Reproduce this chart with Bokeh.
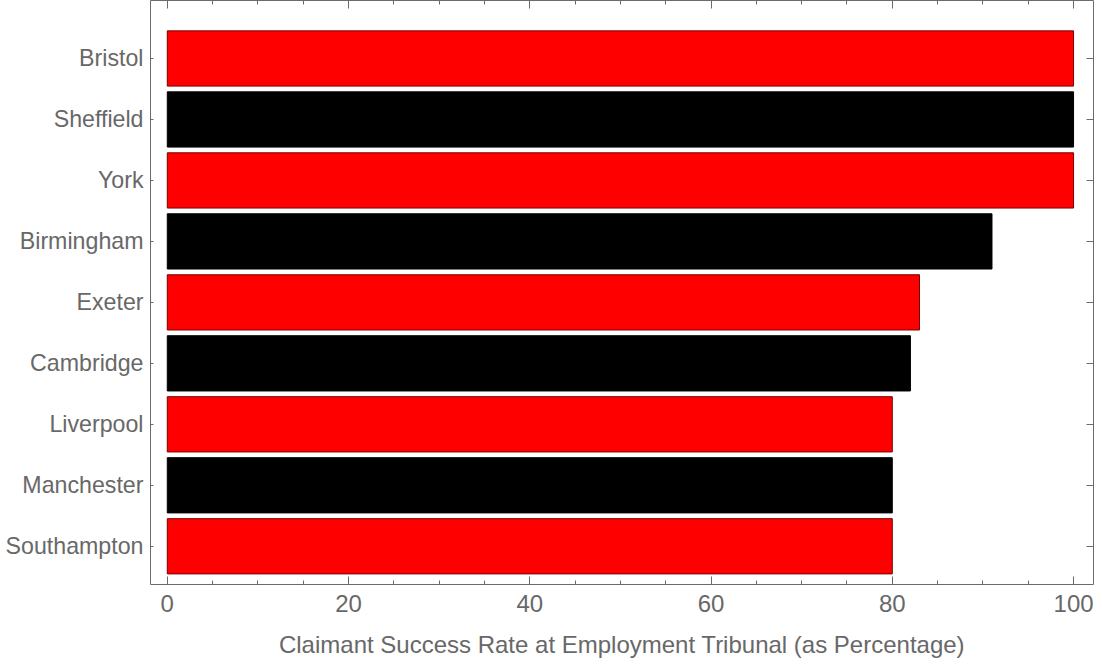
from bokeh.plotting import figure
from bokeh.models import Range1d, LinearAxis, FixedTicker, ColumnDataSource
from bokeh.embed import file_html
from bokeh.resources import INLINE

# ---- data ----
cities = ["Bristol", "Sheffield", "York", "Birmingham", "Exeter",
          "Cambridge", "Liverpool", "Manchester", "Southampton"]
rates = [100, 100, 100, 91, 83, 82, 80, 80, 80]
fill_colors = ["#ff0000", "#000000", "#ff0000", "#000000", "#ff0000",
               "#000000", "#ff0000", "#000000", "#ff0000"]
edge_colors = ["#7a0000", "#000000", "#7a0000", "#000000", "#7a0000",
               "#000000", "#7a0000", "#000000", "#7a0000"]
x_major_ticks = [0, 20, 40, 60, 80, 100]
x_minor_ticks = [0, 5, 10, 15, 20, 25, 30, 35, 40, 45, 50, 55, 60, 65,
                 70, 75, 80, 85, 90, 95, 100]
x_title = "Claimant Success Rate at Employment Tribunal (as Percentage)"

# ---- styles ----
FONT = "Liberation Sans"
FS = "24px"
FS_Y = "23.2px"
TEXT = "#686868"
FRAME = "#6b6b6b"

n = len(cities)
ypos = [n - 1 - i for i in range(n)]

src = ColumnDataSource(dict(y=ypos, right=rates, fill=fill_colors,
                            edge=edge_colors, name=cities))

p = figure(width=1102, height=664,
           x_range=Range1d(-1.85, 102.2), y_range=Range1d(-0.627, 8.951),
           output_backend="svg", toolbar_location=None,
           x_axis_location="below", y_axis_location="left",
           min_border_left=150, min_border_right=9,
           min_border_top=0, min_border_bottom=80)

p.hbar(y="y", left=0, right="right", height=0.906,
       fill_color="fill", line_color="edge", line_width=1, source=src)

p.xgrid.grid_line_color = None
p.ygrid.grid_line_color = None
p.outline_line_color = FRAME
p.outline_line_width = 1
p.background_fill_color = "white"
p.border_fill_color = "white"


def style_axis(ax, tin, mtin, labels=True, size=FS):
    ax.axis_line_color = None
    ax.major_tick_in = tin
    ax.major_tick_out = 0
    ax.minor_tick_in = mtin
    ax.minor_tick_out = 0
    ax.major_tick_line_color = FRAME
    ax.minor_tick_line_color = FRAME
    ax.major_label_text_font = FONT
    ax.major_label_text_color = TEXT
    if labels:
        ax.major_label_text_font_size = size
    else:
        ax.major_label_text_font_size = "1px"
        ax.major_label_standoff = 0


xb = p.xaxis[0]
xb.ticker = FixedTicker(ticks=x_major_ticks, minor_ticks=x_minor_ticks)
style_axis(xb, 8, 4)
xb.major_label_standoff = 10
xb.axis_label = x_title
xb.axis_label_text_font = FONT
xb.axis_label_text_font_size = FS
xb.axis_label_text_font_style = "normal"
xb.axis_label_text_color = TEXT
xb.axis_label_standoff = 16

yl = p.yaxis[0]
yl.ticker = FixedTicker(ticks=ypos, minor_ticks=[])
style_axis(yl, 3, 0, size=FS_Y)
yl.major_label_standoff = 7
yl.major_label_overrides = {yv: c for yv, c in zip(ypos, cities)}

xa = LinearAxis(ticker=FixedTicker(ticks=x_major_ticks, minor_ticks=x_minor_ticks))
style_axis(xa, 8, 4, labels=False)
xa.major_label_overrides = {t: "" for t in x_major_ticks}
p.add_layout(xa, "above")

yr = LinearAxis(ticker=FixedTicker(ticks=ypos, minor_ticks=[]))
style_axis(yr, 7, 0, labels=False)
yr.major_label_overrides = {yv: "" for yv in ypos}
p.add_layout(yr, "right")

open("out.html", "w").write(file_html(p, INLINE))
